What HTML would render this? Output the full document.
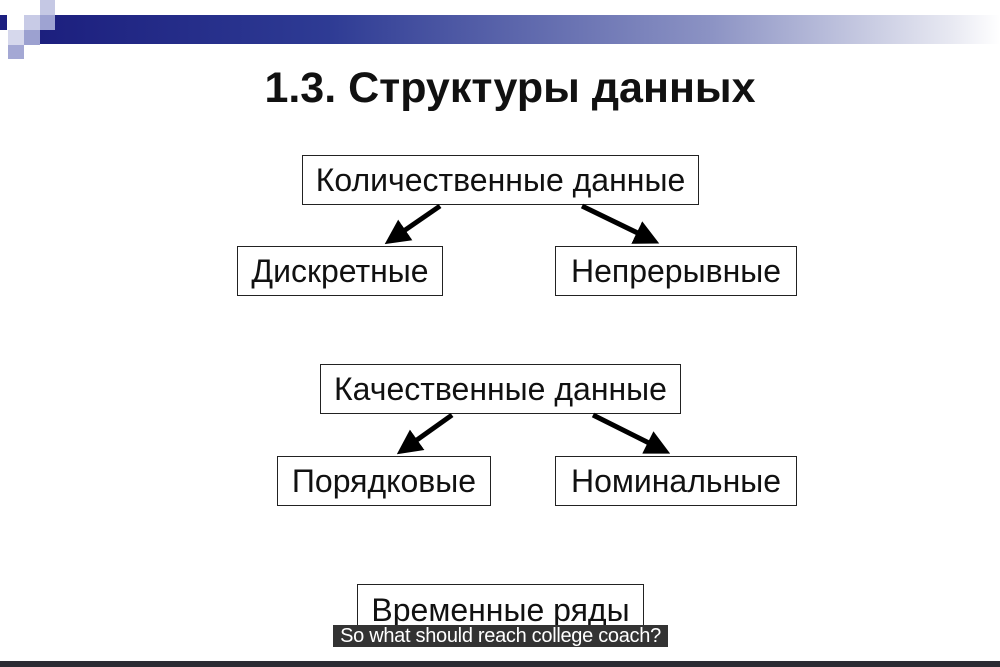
<!DOCTYPE html>
<html><head><meta charset="utf-8"><style>
body{margin:0;width:1000px;height:667px;background:#fff;position:relative;overflow:hidden;font-family:"Liberation Sans","DejaVu Sans",sans-serif}
.b{position:absolute;border:1.5px solid #222;background:#fff;box-sizing:border-box;display:flex;align-items:center;justify-content:center;font-size:32px;color:#111;white-space:nowrap}
.sq{position:absolute}
</style></head><body>
<div style="position:absolute;left:40px;top:15px;width:960px;height:29px;background:linear-gradient(to right,#1c1f7e,#2e3b94 30%,#8c93c4 70%,#e8e9f2 95%,#fff)"></div>
<div class="sq" style="left:0;top:15px;width:7px;height:15px;background:#1c1f80"></div>
<div class="sq" style="left:24px;top:15px;width:16px;height:15px;background:#c8cbe6"></div>
<div class="sq" style="left:40px;top:0;width:15px;height:15px;background:#c5c8e4"></div>
<div class="sq" style="left:40px;top:15px;width:15px;height:15px;background:#9ea3d2"></div>
<div class="sq" style="left:8px;top:30px;width:16px;height:15px;background:#d6d8ec"></div>
<div class="sq" style="left:24px;top:30px;width:16px;height:15px;background:#9ca1d0"></div>
<div class="sq" style="left:8px;top:45px;width:16px;height:14px;background:#a4a8d4"></div>
<div style="position:absolute;left:0;width:1000px;top:64px;text-align:center;font-weight:bold;font-size:43px;color:#111;padding-left:20px;box-sizing:border-box">1.3. Структуры данных</div>
<div class="b" style="left:302px;top:155px;width:397px;height:50px">Количественные данные</div>
<div class="b" style="left:237px;top:246px;width:206px;height:50px">Дискретные</div>
<div class="b" style="left:555px;top:246px;width:242px;height:50px">Непрерывные</div>
<div class="b" style="left:320px;top:364px;width:361px;height:50px">Качественные данные</div>
<div class="b" style="left:277px;top:456px;width:214px;height:50px">Порядковые</div>
<div class="b" style="left:555px;top:456px;width:242px;height:50px">Номинальные</div>
<div class="b" style="left:357px;top:584px;width:287px;height:60px;align-items:flex-start;padding-top:7px">Временные ряды</div>
<svg style="position:absolute;left:0;top:0" width="1000" height="667">
<defs><marker id="a" markerWidth="5" markerHeight="5" refX="2.5" refY="2.5" orient="auto" markerUnits="strokeWidth"><path d="M0,0 L5,2.5 L0,5 z" fill="#000"/></marker></defs>
<g stroke="#000" stroke-width="5" marker-end="url(#a)">
<line x1="440" y1="206" x2="395" y2="237"/>
<line x1="582" y1="206" x2="648" y2="238"/>
<line x1="452" y1="415" x2="407" y2="447"/>
<line x1="593" y1="415" x2="659" y2="448"/>
</g></svg>
<div style="position:absolute;left:333px;top:625px;width:335px;height:22px;background:#333;color:#fff;font-size:20px;line-height:22px;text-align:center;white-space:nowrap;letter-spacing:-0.3px">So what should reach college coach?</div>
<div style="position:absolute;left:0;top:661px;width:1000px;height:6px;background:#2b2b33"></div>
</body></html>
